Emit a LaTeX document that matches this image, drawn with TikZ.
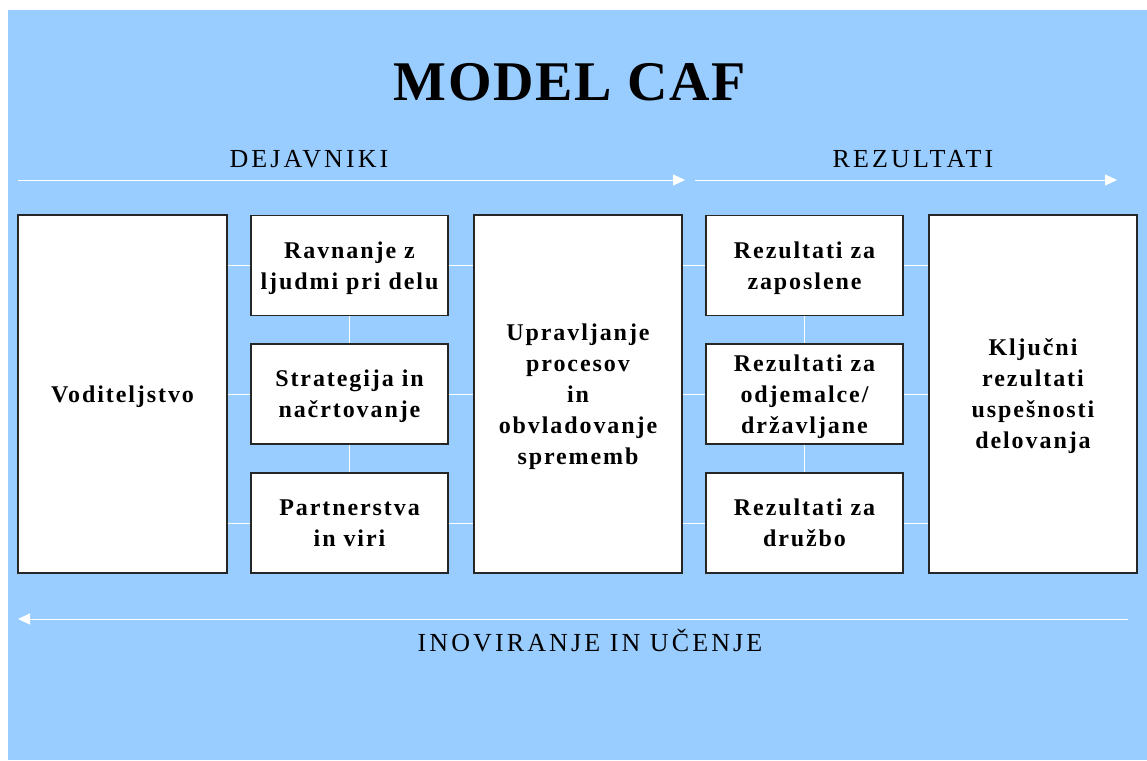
\documentclass[tikz,border=0pt]{standalone}
\usepackage{fontspec}
\setmainfont{Liberation Serif}
\newfontfamily\boxfont[LetterSpace=8]{Liberation Serif}
\newfontfamily\headfont[LetterSpace=3]{Liberation Serif}
\newfontfamily\labelfont[LetterSpace=12]{Liberation Serif}
\usetikzlibrary{arrows.meta}
\definecolor{slideblue}{HTML}{99CCFF}
\tikzset{
  cafbox/.style={draw=black!85, line width=1.2pt, fill=white, inner sep=0pt, align=center,
    font=\boxfont\fontsize{24}{31}\selectfont\bfseries, text depth=-3pt},
  smallbox/.style={cafbox, minimum width=197pt, minimum height=100pt},
  bigbox/.style={cafbox, minimum width=208pt, minimum height=358pt},
  link/.style={white, line width=0.8pt},
  flow/.style={white, line width=1pt, -{Triangle[length=12pt,width=11pt]}}
}
\begin{document}
\begin{tikzpicture}[x=1pt,y=-1pt]
\useasboundingbox (0,0) rectangle (1147,760);
\fill[slideblue] (8,10) rectangle (1147,760);

% naslov in oznake
\node[font=\headfont\fontsize{56}{60}\selectfont\bfseries] (title) at (570,82) {MODEL CAF};
\node[font=\labelfont\fontsize{26}{30}\selectfont] (dej) at (309,159) {DEJAVNIKI};
\node[font=\labelfont\fontsize{26}{30}\selectfont] (rez) at (913,159) {REZULTATI};
\node[font=\labelfont\fontsize{26}{30}\selectfont] (inov) at (590,641) {INOVIRANJE IN UČENJE};

% puscice
\coordinate (a1) at (18,180);  \coordinate (a2) at (685,180);
\coordinate (b1) at (695,180); \coordinate (b2) at (1117,180);
\coordinate (c1) at (1128,619); \coordinate (c2) at (18,619);
\draw[flow] (a1) -- (a2);
\draw[flow] (b1) -- (b2);
\draw[flow] (c1) -- (c2);

% okvirji
\node[bigbox, minimum width=209pt] (lead) at (122.5,394) {Voditeljstvo};
\node[smallbox] (ppl) at (349.5,265.5) {Ravnanje z\\ljudmi pri delu};
\node[smallbox] (strat) at (349.5,394) {Strategija in\\načrtovanje};
\node[smallbox] (part) at (349.5,523) {Partnerstva\\in viri};
\node[bigbox] (proc) at (578,394) {Upravljanje\\procesov\\in\\obvladovanje\\sprememb};
\node[smallbox] (emp) at (804.5,265.5) {Rezultati za\\zaposlene};
\node[smallbox] (cust) at (804.5,394) {Rezultati za\\odjemalce/\\državljane};
\node[smallbox] (soc) at (804.5,523) {Rezultati za\\družbo};
\node[bigbox] (key) at (1033,394) {Ključni\\rezultati\\uspešnosti\\delovanja};

% povezave
\foreach \n in {ppl,strat,part}{
  \draw[link] (lead.east |- \n.west) -- (\n.west);
  \draw[link] (\n.east) -- (proc.west |- \n.east);
}
\foreach \n in {emp,cust,soc}{
  \draw[link] (proc.east |- \n.west) -- (\n.west);
  \draw[link] (\n.east) -- (key.west |- \n.east);
}
\draw[link] (ppl.south) -- (strat.north);
\draw[link] (strat.south) -- (part.north);
\draw[link] (emp.south) -- (cust.north);
\draw[link] (cust.south) -- (soc.north);
\end{tikzpicture}
\end{document}
